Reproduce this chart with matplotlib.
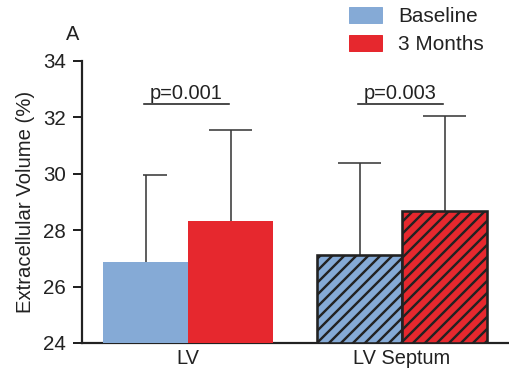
import matplotlib
matplotlib.use("Agg")
import matplotlib.pyplot as plt
import numpy as np

# data
regions = ["LV", "LV Septum"]
series = ["Baseline", "3 Months"]
baseline_mean = [26.87, 27.12]
baseline_sd = [3.09, 3.26]
months3_mean = [28.33, 28.68]
months3_sd = [3.22, 3.37]
p_values = ["p=0.001", "p=0.003"]
p_line_y = 32.47
y_ticks = [24, 26, 28, 30, 32, 34]

blue = "#85AAD6"
red = "#E6282E"
dark = "#222222"

plt.rcParams["font.family"] = ["Liberation Sans", "DejaVu Sans"]
plt.rcParams["hatch.linewidth"] = 2.4
plt.rcParams["hatch.color"] = dark

fig = plt.figure(figsize=(509 / 72, 372 / 72), dpi=72)
ax = fig.add_axes([82 / 509, 1 - 343 / 372, (509 - 82) / 509, (343 - 61) / 372])

centers = np.array([0.0, 2.518])
w = 1.0
hatches = [None, "//"]

for i in range(len(regions)):
    h = hatches[i]
    ec = dark if h else "none"
    lw = 2.6 if h else 0
    ax.bar(centers[i] - w / 2, baseline_mean[i] - 24, w, bottom=24, color=blue,
           hatch=h, edgecolor=ec, linewidth=lw, zorder=3)
    ax.bar(centers[i] + w / 2, months3_mean[i] - 24, w, bottom=24, color=red,
           hatch=h, edgecolor=ec, linewidth=lw, zorder=3)

# error bars (upper half only), caps drawn by hand
err_x = np.concatenate([centers - w / 2, centers + w / 2])
err_lo = np.array(baseline_mean + months3_mean)
err_hi = err_lo + np.array(baseline_sd + months3_sd)
cap_left = [0.03, 0.25, 0.25, 0.25]
cap_right = [0.25, 0.25, 0.25, 0.25]
ax.vlines(err_x, err_lo - 0.05, err_hi, color="#3a3a3a", lw=1.6, zorder=2)
ax.hlines(err_hi, err_x - np.array(cap_left), err_x + np.array(cap_right),
          color="#3a3a3a", lw=1.6, zorder=2)

# significance lines
for i in range(len(regions)):
    ax.plot([centers[i] - w / 2 - 0.02, centers[i] + w / 2 - 0.02], [p_line_y, p_line_y],
            color=dark, lw=1.6, clip_on=False)
    ax.text(centers[i] - 0.02, p_line_y + 0.2, p_values[i], ha="center", va="baseline",
            fontsize=20, color=dark)

ax.set_xlim(-1.247, 3.776)
ax.set_ylim(24, 34)
ax.set_yticks(y_ticks)
ax.set_xticks(centers)
ax.set_xticklabels(regions)
ax.tick_params(axis="x", length=0, pad=6, labelsize=20, colors=dark)
ax.tick_params(axis="y", length=9, width=2, pad=7, labelsize=20.5, colors=dark, direction="out")
ax.set_ylabel("Extracellular Volume (%)", fontsize=20.3, color=dark, labelpad=8)

for s in ["top", "right"]:
    ax.spines[s].set_visible(False)
for s in ["left", "bottom"]:
    ax.spines[s].set_linewidth(2.2)
    ax.spines[s].set_color(dark)

fig.text(66 / 509, 1 - 35 / 372, "A", fontsize=20, color=dark, va="center", ha="left")

handles = [plt.Rectangle((0, 0), 1, 1, color=blue), plt.Rectangle((0, 0), 1, 1, color=red)]
fig.legend(handles, series, loc="upper left", bbox_to_anchor=(349 / 509, 1 - 7 / 372),
           frameon=False, fontsize=20.8, borderpad=0, borderaxespad=0,
           handlelength=1.6, handleheight=0.78, handletextpad=0.76, labelspacing=0.45,
           labelcolor=dark)

fig.savefig("out.png", dpi=72)
